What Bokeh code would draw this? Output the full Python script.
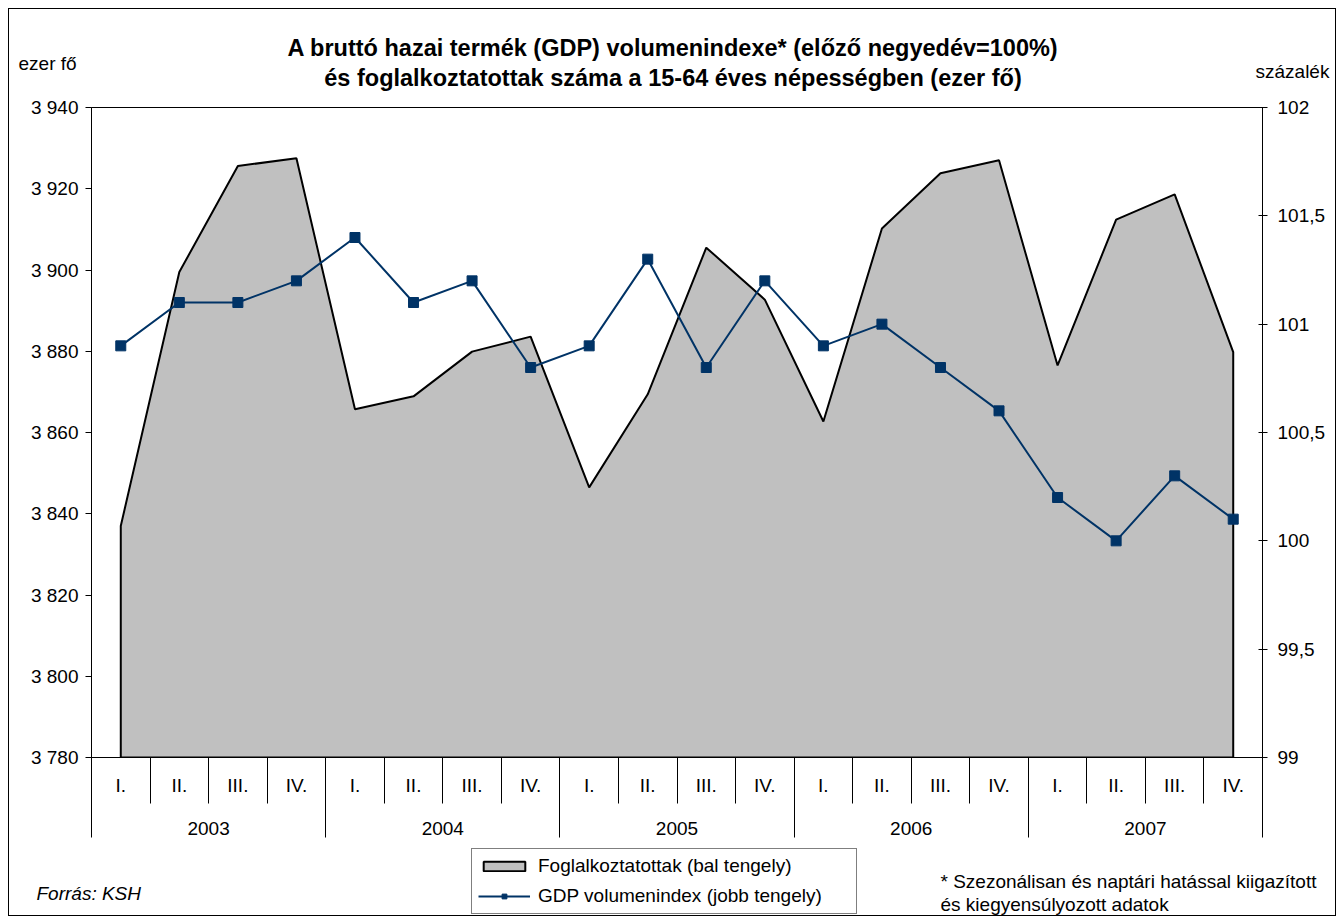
from bokeh.plotting import figure
from bokeh.layouts import column
from bokeh.models import (Range1d, LinearAxis, FixedTicker, CustomJSTickFormatter,
                          Legend, LegendItem)
from bokeh.core.properties import value
from bokeh.embed import file_html
from bokeh.resources import INLINE

# ---- data ----
years = ["2003", "2004", "2005", "2006", "2007"]
quarters = ["I.", "II.", "III.", "IV."]
employed = [3837.0, 3899.5, 3925.6, 3927.5, 3865.7, 3868.9, 3879.9, 3883.6,
            3846.5, 3869.4, 3905.5, 3892.7, 3862.7, 3910.2, 3923.8, 3927.0,
            3876.5, 3912.4, 3918.6, 3879.8]
gdp = [100.9, 101.1, 101.1, 101.2, 101.4, 101.1, 101.2, 100.8,
       100.9, 101.3, 100.8, 101.2, 100.9, 101.0, 100.8, 100.6,
       100.2, 100.0, 100.3, 100.1]
left_ticks = [3780, 3800, 3820, 3840, 3860, 3880, 3900, 3920, 3940]
right_ticks = [99, 99.5, 100, 100.5, 101, 101.5, 102]

title_1 = "A bruttó hazai termék (GDP) volumenindexe* (előző negyedév=100%)"
title_2 = "és foglalkoztatottak száma a 15-64 éves népességben (ezer fő)"
label_emp = "Foglalkoztatottak (bal tengely)"
label_gdp = "GDP volumenindex (jobb tengely)"

FONT = "Liberation Sans"
NAVY = "#003366"
GRAY = "#C0C0C0"
FS = "19px"

idx = list(range(len(employed)))

p = figure(frame_width=1171, frame_height=650,
           x_range=Range1d(idx[0] - 0.5, idx[-1] + 0.5),
           y_range=Range1d(left_ticks[0], left_ticks[-1]),
           x_axis_type=None, y_axis_type=None,
           output_backend="svg", toolbar_location=None,
           min_border_left=82, min_border_right=73,
           min_border_top=98, min_border_bottom=84,
           background_fill_color="white", border_fill_color="white",
           outline_line_color="black", outline_line_width=1)
p.extra_y_ranges = {"pct": Range1d(right_ticks[0], right_ticks[-1])}
p.xgrid.visible = False
p.ygrid.visible = False

# area series (left axis)
ymin = left_ticks[0]
area_x = [idx[0]] + idx + [idx[-1]]
area_y = [ymin] + employed + [ymin]
p.patch(area_x, area_y, fill_color=GRAY, line_color="black", line_width=2)

# GDP line (right axis)
p.line(idx, gdp, y_range_name="pct", line_color=NAVY, line_width=2)
p.scatter(idx, gdp, y_range_name="pct", marker="square", size=10,
          fill_color=NAVY, line_color=NAVY)

# left axis
yl = LinearAxis(ticker=FixedTicker(ticks=left_ticks),
                formatter=CustomJSTickFormatter(
                    code="return tick.toFixed(0).replace(/\\B(?=(\\d{3})+(?!\\d))/g, ' ')"),
                major_tick_in=0, major_tick_out=6, minor_tick_in=0, minor_tick_out=0,
                axis_line_color="black", major_tick_line_color="black",
                major_label_text_font=FONT, major_label_text_font_size=FS,
                major_label_text_color="black", major_label_standoff=7)
p.add_layout(yl, "left")

# right axis
yr = LinearAxis(y_range_name="pct", ticker=FixedTicker(ticks=right_ticks),
                formatter=CustomJSTickFormatter(code="return tick.toString().replace('.', ',')"),
                major_tick_in=4, major_tick_out=5, minor_tick_in=0, minor_tick_out=0,
                axis_line_color="black", major_tick_line_color="black",
                major_label_text_font=FONT, major_label_text_font_size=FS,
                major_label_text_color="black", major_label_standoff=10)
p.add_layout(yr, "right")

# category boundaries
nq = len(quarters)
q_bounds = [i - 0.5 for i in idx] + [idx[-1] + 0.5]
year_centers = [i * nq + (nq - 1) / 2 for i in range(len(years))]
year_bounds = [i * nq - 0.5 for i in range(len(years) + 1)]

# quarter labels (with short separator stubs)
xa = LinearAxis(ticker=FixedTicker(ticks=idx, minor_ticks=q_bounds),
                formatter=CustomJSTickFormatter(args=dict(q=quarters),
                                                code="return q[Math.round(tick) % q.length]"),
                major_tick_in=0, major_tick_out=0, minor_tick_in=0, minor_tick_out=10,
                axis_line_color="black", minor_tick_line_color="black",
                major_label_text_font=FONT, major_label_text_font_size=FS,
                major_label_text_color="black", major_label_standoff=7)
p.add_layout(xa, "below")

# year labels, quarter separators drawn upwards
xb = LinearAxis(ticker=FixedTicker(ticks=year_centers, minor_ticks=q_bounds),
                formatter=CustomJSTickFormatter(args=dict(y=years, n=nq),
                                                code="return y[Math.floor((tick + 0.5) / n)]"),
                major_tick_in=0, major_tick_out=0, minor_tick_in=33, minor_tick_out=5,
                axis_line_color=None, minor_tick_line_color="black",
                major_label_text_font=FONT, major_label_text_font_size=FS,
                major_label_text_color="black", major_label_standoff=18)
p.add_layout(xb, "below")

# year separators drawn upwards
xc = LinearAxis(ticker=FixedTicker(ticks=year_bounds, minor_ticks=[]),
                formatter=CustomJSTickFormatter(code="return ''"),
                major_tick_in=77, major_tick_out=0, minor_tick_in=0, minor_tick_out=0,
                axis_line_color=None, major_tick_line_color="black",
                major_label_text_font_size="1px", major_label_standoff=0)
p.add_layout(xc, "below")

# free texts, anchored at frame corners, offsets in pixels
def add_text(fig, x, y, dx, dy, txt, style="normal", size=FS, align="left"):
    r = fig.text(x=[x], y=[y], text=[txt], x_offset=dx, y_offset=dy,
                 text_font=value(FONT), text_font_size=value(size),
                 text_font_style=value(style), text_color="black",
                 text_baseline="middle", text_align=align)
    r.level = "overlay"

x0, y0 = p.x_range.start, p.y_range.start
xmid, ytop = (p.x_range.start + p.x_range.end) / 2, p.y_range.end
add_text(p, xmid, ytop, -4, -60, title_1, style="bold", size="23.5px", align="center")
add_text(p, xmid, ytop, -4, -30, title_2, style="bold", size="23.5px", align="center")
add_text(p, x0, y0, -73, -694, "ezer fő")
add_text(p, x0, y0, 1164, -686, "százalék")

# ---- footer: legend, source and footnote ----
foot = figure(frame_width=1326, frame_height=74,
              x_range=Range1d(0, 1), y_range=Range1d(0, 1),
              x_axis_type=None, y_axis_type=None,
              output_backend="svg", toolbar_location=None,
              min_border=0, min_border_left=0, min_border_right=0,
              min_border_top=0, min_border_bottom=0,
              background_fill_color="white", border_fill_color="white",
              outline_line_color=None)
foot.xgrid.visible = False
foot.ygrid.visible = False

# legend swatches styled like the series above (one point each, outside the view)
k_area = foot.patch([-3, -2, -2], [-3, -3, -2], fill_color=GRAY, line_color="black", line_width=2)
k_line = foot.line([-3, -2], [-3, -3], line_color=NAVY, line_width=2)
k_pts = foot.scatter([-3], [-3], marker="square", size=10, fill_color=NAVY, line_color=NAVY)

legend = Legend(items=[LegendItem(label=label_emp, renderers=[k_area]),
                       LegendItem(label=label_gdp, renderers=[k_line, k_pts])],
                location=(462, 1), orientation="vertical",
                border_line_color="black", border_line_width=1,
                background_fill_color="white", background_fill_alpha=1,
                label_text_font=FONT, label_text_font_size=FS, label_text_color="black",
                glyph_width=52, glyph_height=12, label_standoff=8,
                spacing=8, padding=6, margin=0, label_height=18, label_width=312)
foot.add_layout(legend, "center")

fx0, fy0 = foot.x_range.start, foot.y_range.start
add_text(foot, fx0, fy0, -55, -22, "Forrás: KSH", style="italic")
add_text(foot, fx0, fy0, 849, -34, "* Szezonálisan és naptári hatással kiigazított")
add_text(foot, fx0, fy0, 849, -11, "és kiegyensúlyozott adatok")

layout = column(p, foot, spacing=0)
layout.styles = {"margin": "8px 0 0 8px", "border": "1px solid black"}

open("out.html", "w").write(file_html(layout, INLINE))
